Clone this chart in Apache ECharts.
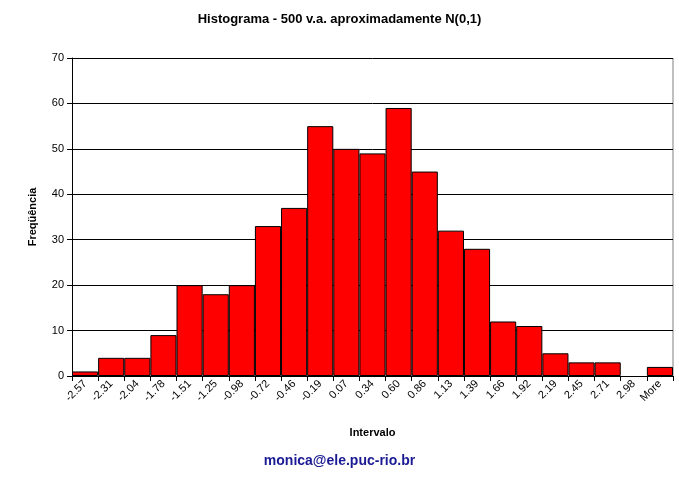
<!DOCTYPE html>
<html>
<head>
<meta charset="utf-8">
<script src="https://cdn.jsdelivr.net/npm/echarts@6/dist/echarts.min.js"></script>
<style>
  html, body { margin: 0; padding: 0; background: #fff; }
  #chart { width: 679px; height: 494px; }
</style>
</head>
<body>
<div id="chart"></div>
<script>
// histogram bins (upper limits) and frequencies
var intervalos = ['-2.57','-2.31','-2.04','-1.78','-1.51','-1.25','-0.98','-0.72','-0.46','-0.19','0.07','0.34','0.60','0.86','1.13','1.39','1.66','1.92','2.19','2.45','2.71','2.98','More'];
var frequencias = [1, 4, 4, 9, 20, 18, 20, 33, 37, 55, 50, 49, 59, 45, 32, 28, 12, 11, 5, 3, 3, 0, 2];

var chart = echarts.init(document.getElementById('chart'));
var fonte = 'Liberation Sans, Arial, sans-serif';

chart.setOption({
  backgroundColor: '#fff',
  animation: false,
  title: [
    {
      text: 'Histograma - 500 v.a. aproximadamente N(0,1)',
      left: 'center',
      top: 8,
      textStyle: { fontFamily: fonte, fontSize: 13, fontWeight: 'bold', color: '#000' }
    },
    {
      text: 'monica@ele.puc-rio.br',
      left: 'center',
      top: 449,
      textStyle: { fontFamily: fonte, fontSize: 14, fontWeight: 'bold', color: '#1a1a94' }
    }
  ],
  grid: { left: 72, right: 6, top: 58, bottom: 118 },
  xAxis: {
    type: 'category',
    data: intervalos,
    name: 'Intervalo',
    nameLocation: 'middle',
    nameGap: 51,
    nameTextStyle: { fontFamily: fonte, fontSize: 11, fontWeight: 'bold', color: '#000' },
    axisLine: { lineStyle: { color: '#000', width: 1 } },
    axisTick: { show: true, alignWithLabel: false, length: 5, lineStyle: { color: '#000' } },
    axisLabel: { rotate: 45, fontFamily: fonte, fontSize: 11, color: '#000', margin: 6, interval: 0 },
    splitLine: { show: false }
  },
  yAxis: {
    type: 'value',
    min: 0,
    max: 70,
    interval: 10,
    name: 'Freqüência',
    nameLocation: 'middle',
    nameGap: 34,
    nameRotate: 90,
    nameTextStyle: { fontFamily: fonte, fontSize: 11, fontWeight: 'bold', color: '#000' },
    axisLine: { show: true, lineStyle: { color: '#000' } },
    axisTick: { show: true, length: 5, lineStyle: { color: '#000' } },
    axisLabel: { fontFamily: fonte, fontSize: 11, color: '#000', margin: 8 },
    splitLine: { show: true, lineStyle: { color: '#000', width: 1 } }
  },
  graphic: [
    { type: 'line', shape: { x1: 673, y1: 58, x2: 673, y2: 376 }, style: { stroke: '#aaa', lineWidth: 1.5 } }
  ],
  series: [
    {
      type: 'bar',
      data: frequencias.map(function (v) {
        return v === 0 ? { value: v, itemStyle: { borderWidth: 0 } } : v;
      }),
      barCategoryGap: '0%',
      itemStyle: { color: '#ff0000', borderColor: '#000', borderWidth: 1 }
    }
  ]
});
</script>
</body>
</html>
